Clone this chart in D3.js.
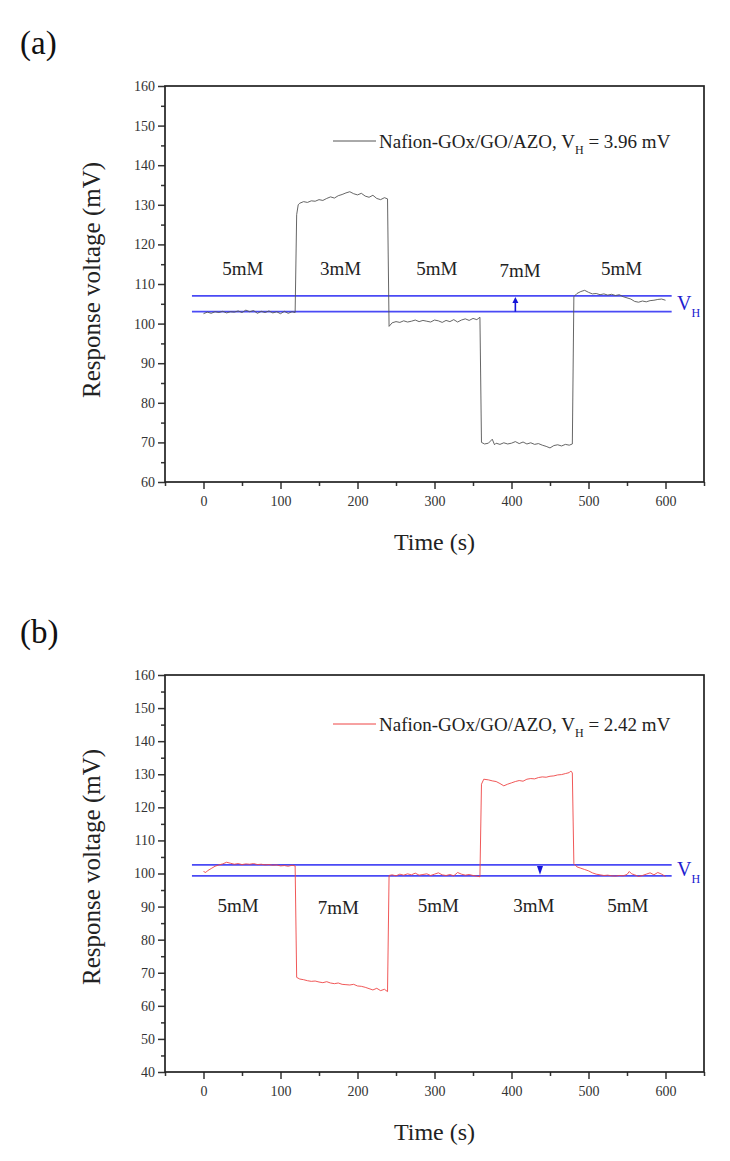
<!DOCTYPE html>
<html>
<head>
<meta charset="utf-8">
<script src="https://cdn.jsdelivr.net/npm/d3@7"></script>
<style>
  body { margin: 0; background: #fff; }
  text { font-family: "Liberation Serif", "Times New Roman", serif; }
</style>
</head>
<body>
<div id="chart"></div>
<script>
/* Response voltage vs time, two panels (a) and (b) */

// panel (a): [time s, voltage mV]
const traceA = [
  [0,102.5],[5,102.9],[10,102.6],[15,103.0],[20,102.8],[25,103.1],[30,102.7],[35,103.0],[40,102.9],[45,103.2],
  [50,102.8],[55,103.4],[60,103.0],[65,103.3],[70,102.6],[75,103.1],[80,102.8],[85,103.2],[90,102.7],[95,103.0],
  [100,102.5],[105,103.1],[110,102.6],[115,103.0],[119,102.8],[121,127.5],[123,130.0],[125,130.4],[130,130.8],
  [135,130.6],[140,131.0],[145,130.9],[150,131.3],[155,131.1],[160,131.6],[165,132.0],[170,131.7],[175,132.3],
  [180,132.6],[185,133.0],[190,133.3],[195,132.8],[200,132.5],[205,132.9],[210,132.2],[215,131.9],[220,132.4],
  [225,131.6],[230,131.3],[235,131.8],[239,131.5],[241,99.3],[245,100.2],[250,100.5],[255,100.3],[260,100.7],
  [265,100.4],[270,100.6],[275,100.9],[280,100.5],[285,100.8],[290,100.6],[295,100.4],[300,100.9],[305,100.7],
  [310,100.3],[315,100.8],[320,100.5],[325,101.0],[330,100.4],[335,100.9],[340,101.2],[345,100.8],[350,101.3],
  [355,101.0],[359,101.6],[361,70.0],[365,69.6],[370,69.8],[375,70.8],[378,69.4],[380,69.8],[385,69.5],[390,69.9],
  [395,69.6],[400,69.8],[405,70.2],[410,69.7],[415,70.1],[420,69.6],[425,69.9],[430,69.5],[435,69.7],[440,69.3],
  [445,69.0],[450,68.6],[455,69.2],[460,69.4],[465,69.1],[470,69.5],[475,69.3],[479,69.6],[481,106.8],[485,107.6],
  [490,108.1],[495,108.4],[500,107.9],[505,107.5],[510,107.6],[515,107.3],[520,107.5],[525,107.2],[530,107.4],
  [535,107.1],[540,107.3],[545,106.8],[550,106.5],[555,106.2],[560,105.6],[565,105.4],[570,105.7],[575,105.5],
  [580,105.8],[585,105.9],[590,106.1],[595,106.2],[600,105.9]
];

// panel (b): [time s, voltage mV]
const traceB = [
  [0,100.6],[3,100.3],[5,100.8],[10,101.5],[15,102.2],[20,102.6],[25,102.9],[30,103.4],[35,103.1],[40,102.8],
  [45,103.0],[50,102.7],[55,102.9],[60,102.8],[65,103.0],[70,102.7],[75,102.8],[80,102.6],[85,102.7],[90,102.5],
  [95,102.6],[100,102.3],[105,102.4],[110,102.2],[115,102.5],[119,102.3],[121,68.6],[125,68.1],[130,67.9],
  [135,67.6],[140,67.4],[145,67.5],[150,67.2],[155,67.0],[160,67.3],[165,66.9],[170,66.7],[175,66.9],[180,66.5],
  [185,66.4],[190,66.3],[195,66.5],[200,66.0],[205,65.9],[210,65.6],[215,65.2],[220,64.8],[225,65.3],[230,64.6],
  [235,65.0],[239,64.3],[241,99.4],[245,99.6],[250,99.3],[255,99.8],[260,99.5],[265,99.9],[270,99.6],[275,100.1],
  [280,99.5],[285,99.7],[290,99.9],[295,99.4],[300,99.8],[305,100.2],[310,99.6],[315,99.4],[320,99.7],[325,99.3],
  [330,100.3],[335,99.8],[340,99.5],[345,99.7],[350,99.4],[355,99.2],[359,99.0],[361,127.0],[364,128.5],
  [370,128.3],[375,128.0],[380,127.8],[385,127.2],[390,126.5],[395,127.0],[400,127.4],[405,127.8],[410,128.1],
  [415,127.9],[420,128.5],[425,128.7],[430,128.6],[435,129.0],[440,129.2],[445,129.1],[450,129.4],[455,129.5],
  [460,129.8],[465,129.9],[470,130.2],[475,130.5],[477,131.0],[479,130.4],[481,103.0],[485,102.0],[490,101.6],
  [495,101.2],[500,100.8],[505,100.2],[510,99.8],[515,99.6],[520,99.4],[525,99.5],[530,99.3],[535,99.2],
  [540,99.4],[545,99.3],[550,99.7],[553,100.6],[556,99.9],[560,99.6],[565,99.1],[570,99.4],[575,99.8],
  [580,100.2],[585,99.6],[590,100.3],[595,99.8],[600,99.1]
];

const xTicks = [0, 100, 200, 300, 400, 500, 600];
const yTicksA = [60, 70, 80, 90, 100, 110, 120, 130, 140, 150, 160];
const yTicksB = [40, 50, 60, 70, 80, 90, 100, 110, 120, 130, 140, 150, 160];

const concA = ["5mM", "3mM", "5mM", "7mM", "5mM"];
const concTimeA = [51, 178, 303, 411, 543];
const concB = ["5mM", "7mM", "5mM", "3mM", "5mM"];
const concTimeB = [45, 175, 305, 429, 551];

const vhA = [103.0, 107.0];   // lower, upper
const vhB = [99.3, 102.6];
const legendA = "3.96";
const legendB = "2.42";

const width = 730, height = 1161;
const svg = d3.select("#chart").append("svg")
  .attr("width", width).attr("height", height)
  .attr("viewBox", [0, 0, width, height]);

function panel(o) {
  const x = d3.scaleLinear().domain([-50, 650]).range([165, 704]);
  const y = d3.scaleLinear().domain(o.yDomain).range([o.bottom, o.top]);
  const g = svg.append("g");

  // minor ticks first, then major with labels
  g.append("g").attr("transform", `translate(0,${o.bottom})`)
    .call(d3.axisBottom(x).tickValues(d3.range(-50, 651, 100)).tickSize(4).tickFormat(""))
    .call(a => a.select(".domain").remove());
  g.append("g").attr("transform", `translate(0,${o.bottom})`)
    .call(d3.axisBottom(x).tickValues(xTicks).tickSize(7).tickPadding(7).tickFormat(d3.format("d")))
    .call(a => a.select(".domain").remove());
  g.append("g").attr("transform", `translate(165,0)`)
    .call(d3.axisLeft(y).tickValues(d3.range(o.yDomain[0] + 5, o.yDomain[1], 10)).tickSize(4).tickFormat(""))
    .call(a => a.select(".domain").remove());
  g.append("g").attr("transform", `translate(165,0)`)
    .call(d3.axisLeft(y).tickValues(o.yTicks).tickSize(7).tickPadding(3).tickFormat(d3.format("d")))
    .call(a => a.select(".domain").remove());

  g.selectAll(".tick line").attr("stroke", "#333").attr("stroke-width", 1.5);
  g.selectAll(".tick text").attr("fill", "#333").style("font-size", "14px")
    .style("font-family", '"Liberation Serif", serif');

  g.append("rect")
    .attr("x", 165).attr("y", o.top).attr("width", 704 - 165).attr("height", o.bottom - o.top)
    .attr("fill", "none").attr("stroke", "#222").attr("stroke-width", 1.7);

  // VH lines
  g.selectAll(".vh").data(o.vh).join("line")
    .attr("x1", x(-15)).attr("x2", x(608))
    .attr("y1", d => y(d)).attr("y2", d => y(d))
    .attr("stroke", "#4a4af5").attr("stroke-width", 1.8);

  // trace
  g.append("path").datum(o.trace)
    .attr("fill", "none").attr("stroke", o.color).attr("stroke-width", 0.9)
    .attr("d", d3.line().x(d => x(d[0])).y(d => y(d[1])));

  // arrow between the VH lines
  const ax = x(o.arrowT), yl = y(o.vh[0]), yu = y(o.vh[1]);
  if (o.arrowUp) {
    g.append("line").attr("x1", ax).attr("x2", ax).attr("y1", yl).attr("y2", yu + 6)
      .attr("stroke", "#1515d8").attr("stroke-width", 1.6);
    g.append("path").attr("d", `M${ax - 3},${yu + 7} L${ax + 3},${yu + 7} L${ax},${yu + 1} Z`)
      .attr("fill", "#1515d8");
  } else {
    g.append("path").attr("d", `M${ax - 3},${yu + 1} L${ax + 3},${yu + 1} L${ax},${yl - 1} Z`)
      .attr("fill", "#1515d8");
  }

  // V_H label
  const vh = g.append("text").attr("x", 677).attr("y", o.vhBase)
    .attr("fill", "#2020d0").style("font-size", "20px");
  vh.append("tspan").text("V");
  vh.append("tspan").attr("dy", 7).style("font-size", "12px").text("H");

  // concentration labels
  g.selectAll(".conc").data(o.conc).join("text")
    .attr("x", (d, i) => x(o.concT[i]))
    .attr("y", (d, i) => y(o.concV) + (d === "7mM" ? 2 : 0))
    .attr("text-anchor", "middle").attr("fill", "#222").style("font-size", "19px")
    .text(d => d);

  // legend
  g.append("line").attr("x1", 333).attr("x2", 376).attr("y1", o.legY).attr("y2", o.legY)
    .attr("stroke", o.color).attr("stroke-width", 1);
  const lt = g.append("text").attr("x", 379).attr("y", o.legY + 7)
    .attr("fill", "#222").style("font-size", "19px");
  lt.append("tspan").text("Nafion-GOx/GO/AZO, V");
  lt.append("tspan").attr("dy", 6).style("font-size", "12px").text("H");
  lt.append("tspan").attr("dy", -6).text(" = " + o.legVal + " mV");

  // axis titles
  g.append("text").attr("x", 434.5).attr("y", o.bottom + 68)
    .attr("text-anchor", "middle").attr("fill", "#222").style("font-size", "24px").text("Time (s)");
  g.append("text").attr("transform", `translate(100,${o.titleY}) rotate(-90)`)
    .attr("text-anchor", "middle").attr("fill", "#222").style("font-size", "25px")
    .text("Response voltage (mV)");

  // panel label
  g.append("text").attr("x", 20).attr("y", o.top - 32)
    .attr("fill", "#111").style("font-size", "33px").text(o.label);
}

panel({
  label: "(a)", top: 86, bottom: 482, yDomain: [60, 160], yTicks: yTicksA,
  trace: traceA, color: "#555", vh: vhA, arrowT: 405, arrowUp: true, vhBase: 310,
  conc: concA, concT: concTimeA, concV: 112.3, legY: 141, legVal: legendA, titleY: 280
});

panel({
  label: "(b)", top: 675, bottom: 1072, yDomain: [40, 160], yTicks: yTicksB,
  trace: traceB, color: "#ee4545", vh: vhB, arrowT: 437, arrowUp: false, vhBase: 876,
  conc: concB, concT: concTimeB, concV: 88.3, legY: 724, legVal: legendB, titleY: 867
});
</script>
</body>
</html>
